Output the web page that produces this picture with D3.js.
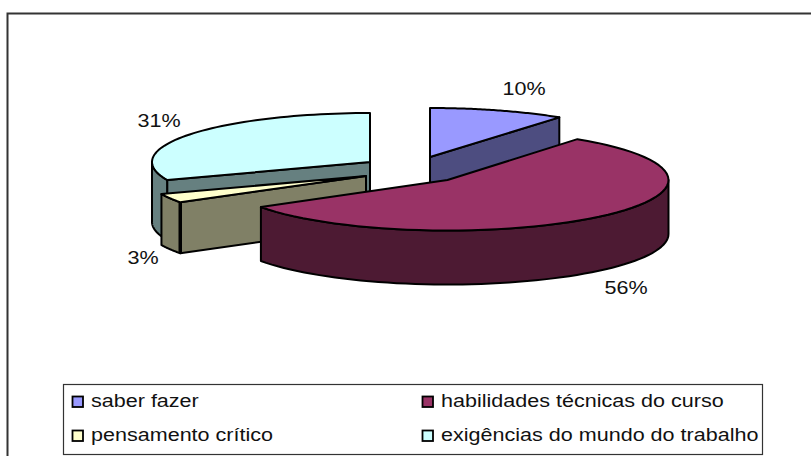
<!DOCTYPE html>
<html><head><meta charset="utf-8">
<script src="https://cdn.jsdelivr.net/npm/d3@7/dist/d3.min.js"></script>
<style>html,body{margin:0;padding:0;background:#fff}svg{display:block}text{font-family:"Liberation Sans",Arial,sans-serif;fill:#111}</style>
</head><body><svg id="c" width="811" height="456"></svg>
<script>
const categories = ["saber fazer","habilidades técnicas do curso","pensamento crítico","exigências do mundo do trabalho"];
const values = [10,56,3,31];
const labels = ["10%","56%","3%","31%"];
const topColors = ["#9999FF","#993366","#FFFFCC","#CCFFFF"];
const sideColors = ["#4D4D80","#4D1A33","#808066","#668080"];

// layout of the exploded 3D pie
const centers = [[430,157],[447.5,180],[366,176],[370,162]];
const labelPos = [[524,95],[626,294],[143,264],[159,127]];
const radiiX = [220,221,220,218];
const radiiY = [49,50.5,49,49];
const depths = [53,54,51,60];
const legendRows = [[91,407],[441,407],[91,441],[441,441]];
const textStretch = 1.165;

const svg = d3.select("#c");
svg.append("path").attr("d","M7.5,456V13.5H811").attr("fill","none").attr("stroke","#333").attr("stroke-width",2);

const slices = d3.pie().sort(null).value(d=>d)(values);
const X = i=>d3.scaleLinear().domain([-1,1]).range([centers[i][0]-radiiX[i],centers[i][0]+radiiX[i]]);
const Y = i=>d3.scaleLinear().domain([-1,1]).range([centers[i][1]-radiiY[i],centers[i][1]+radiiY[i]]);
const pt = (i,a,dz=0)=>[X(i)(Math.sin(a)),Y(i)(-Math.cos(a))+dz];
const arcPts = (i,a0,a1,dz=0)=>d3.range(0,61).map(k=>pt(i,a0+(a1-a0)*k/60,dz));
const line = d3.line();
const stroke = (s,w=2)=>s.attr("stroke","#000").attr("stroke-width",w).attr("stroke-linejoin","round");

function drawWall(i,a0,a1){
  const lo=Math.max(a0,Math.PI/2), hi=Math.min(a1,Math.PI*1.5);
  if(hi<=lo) return;
  const p=arcPts(i,lo,hi).concat(arcPts(i,lo,hi,depths[i]).reverse());
  stroke(svg.append("path").attr("d",line(p)+"Z").attr("fill",sideColors[i]));
}
function drawCut(i,a){
  const c=centers[i], o=pt(i,a);
  const p=[c,o,[o[0],o[1]+depths[i]],[c[0],c[1]+depths[i]]];
  stroke(svg.append("path").attr("d",line(p)+"Z").attr("fill",sideColors[i]));
}
function drawTop(i,a0,a1){
  const p=[centers[i]].concat(arcPts(i,a0,a1));
  stroke(svg.append("path").attr("d",line(p)+"Z").attr("fill",topColors[i]));
}
const A = slices.map(s=>[s.startAngle,s.endAngle]);

// back to front
drawWall(3,A[3][0],A[3][1]); drawCut(3,A[3][0]); drawTop(3,A[3][0],A[3][1]);
drawCut(0,A[0][1]); drawTop(0,A[0][0],A[0][1]);
drawWall(2,A[2][0],A[2][1]); drawCut(2,A[2][0]); drawTop(2,A[2][0],A[2][1]);
stroke(svg.append("path").attr("d",line([pt(2,A[2][0]),pt(2,A[2][0],depths[2])])).attr("fill","none"),3.5);
drawWall(1,A[1][0],A[1][1]); drawTop(1,A[1][0],A[1][1]);

svg.selectAll("text.pct").data(labels).join("text").attr("class","pct")
  .attr("transform",(d,i)=>`translate(${labelPos[i][0]},${labelPos[i][1]}) scale(${textStretch},1)`)
  .attr("text-anchor","middle").attr("font-size",18.5).text(d=>d);

// legend
svg.append("rect").attr("x",63.5).attr("y",384.5).attr("width",699).attr("height",70)
  .attr("fill","#fff").attr("stroke","#333").attr("stroke-width",1.2);
const lg = svg.selectAll("g.lg").data(categories).join("g").attr("class","lg")
  .attr("transform",(d,i)=>`translate(${legendRows[i][0]},${legendRows[i][1]})`);
lg.append("rect").attr("x",-18.5).attr("y",-10.5).attr("width",10.5).attr("height",10.5)
  .attr("fill",(d,i)=>topColors[i]).attr("stroke","#000").attr("stroke-width",1.8);
lg.append("text").attr("transform",`scale(${textStretch},1)`).attr("font-size",18.5).text(d=>d);
</script></body></html>
